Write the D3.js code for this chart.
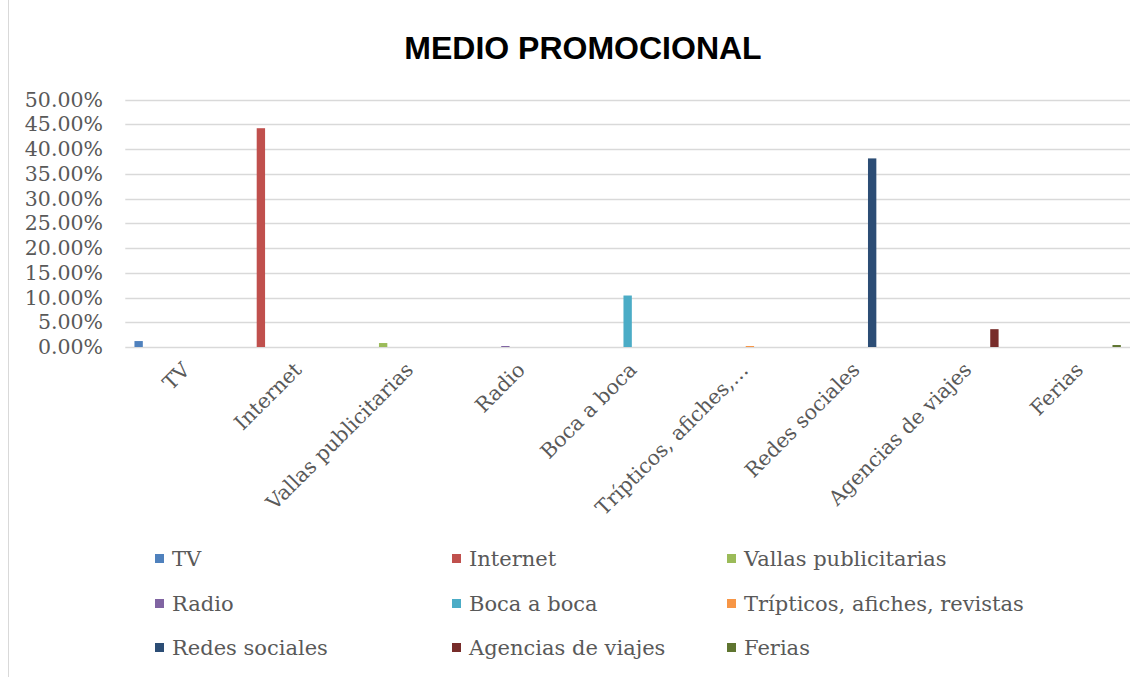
<!DOCTYPE html>
<html>
<head>
<meta charset="utf-8">
<script src="https://cdn.jsdelivr.net/npm/d3@7"></script>
<style>
  html, body { margin: 0; padding: 0; background: #fff; }
  svg { display: block; }
</style>
</head>
<body>
<svg id="chart" width="1147" height="677"></svg>
<script>
const categories = ["TV", "Internet", "Vallas publicitarias", "Radio", "Boca a boca",
  "Trípticos, afiches, revistas", "Redes sociales", "Agencias de viajes", "Ferias"];
const axisLabels = ["TV", "Internet", "Vallas publicitarias", "Radio", "Boca a boca",
  "Trípticos, afiches,…", "Redes sociales", "Agencias de viajes", "Ferias"];
const values = [0.012, 0.442, 0.008, 0.002, 0.104, 0.002, 0.381, 0.036, 0.004];
const colors = ["#4F81BD", "#C0504D", "#9BBB59", "#8064A2", "#4BACC6",
  "#F79646", "#2C4D75", "#772C2A", "#5F7530"];
const yTicks = [0, 0.05, 0.10, 0.15, 0.20, 0.25, 0.30, 0.35, 0.40, 0.45, 0.50];

const svg = d3.select("#chart");
const serif = "'DejaVu Serif', serif";
const textColor = "#595959";

// chart border (left edge visible)
svg.append("line").attr("x1", 8.5).attr("x2", 8.5).attr("y1", 0).attr("y2", 677)
  .attr("stroke", "#d9d9d9").attr("stroke-width", 1);

// title
svg.append("text").attr("x", 583).attr("y", 59).attr("text-anchor", "middle")
  .attr("font-family", "'Liberation Sans', Arial, sans-serif").attr("font-weight", "bold")
  .attr("font-size", 32).attr("fill", "#000").text("MEDIO PROMOCIONAL");

const plotL = 125.3, plotR = 1130, plotT = 99.5, plotB = 347;

const y = d3.scaleLinear().domain([0, 0.5]).range([plotB, plotT]);
const x0 = d3.scaleBand().domain(categories).range([plotL, plotR])
  .paddingInner(0.164).paddingOuter(0.082);
const x1 = d3.scaleBand().domain(categories).range([0, x0.bandwidth()])
  .paddingInner(0.27 / 1.27).paddingOuter(0);

// gridlines
svg.append("g").selectAll("line").data(yTicks).join("line")
  .attr("x1", plotL).attr("x2", plotR)
  .attr("y1", d => Math.round(y(d)) + 0.5).attr("y2", d => Math.round(y(d)) + 0.5)
  .attr("stroke", "#d9d9d9").attr("stroke-width", 1.3);

// y axis labels
const yAxis = d3.axisLeft(y).tickValues(yTicks).tickFormat(d3.format(".2%")).tickSize(0).tickPadding(0);
const gy = svg.append("g").attr("transform", `translate(103,0)`).call(yAxis);
gy.select(".domain").remove();
gy.selectAll("text").attr("font-family", serif).attr("font-size", 20.5).attr("fill", textColor);

// bars
svg.append("g").selectAll("rect").data(categories).join("rect")
  .attr("x", (d, i) => x0(d) + x1(d))
  .attr("width", x1.bandwidth())
  .attr("y", (d, i) => y(values[i]))
  .attr("height", (d, i) => plotB - y(values[i]))
  .attr("fill", (d, i) => colors[i]);

// x axis labels
const xl = svg.append("g");
categories.forEach((c, i) => {
  const cx = x0(c) + x0.bandwidth() / 2;
  xl.append("text")
    .attr("transform", `translate(${cx},${plotB + 14}) rotate(-45)`)
    .attr("text-anchor", "end").attr("dy", "0.7em")
    .attr("font-family", serif).attr("font-size", 20.5).attr("fill", textColor)
    .text(axisLabels[i]);
});

// legend
const legCols = [155, 452, 727];
const legRows = [559, 604, 648];
const leg = svg.append("g");
categories.forEach((c, i) => {
  const lx = legCols[i % 3], ly = legRows[Math.floor(i / 3)];
  leg.append("rect").attr("x", lx).attr("y", ly - 5).attr("width", 9).attr("height", 9)
    .attr("fill", colors[i]);
  leg.append("text").attr("x", lx + 17).attr("y", ly).attr("dy", "0.35em")
    .attr("font-family", serif).attr("font-size", 21).attr("fill", textColor).text(c);
});
</script>
</body>
</html>
